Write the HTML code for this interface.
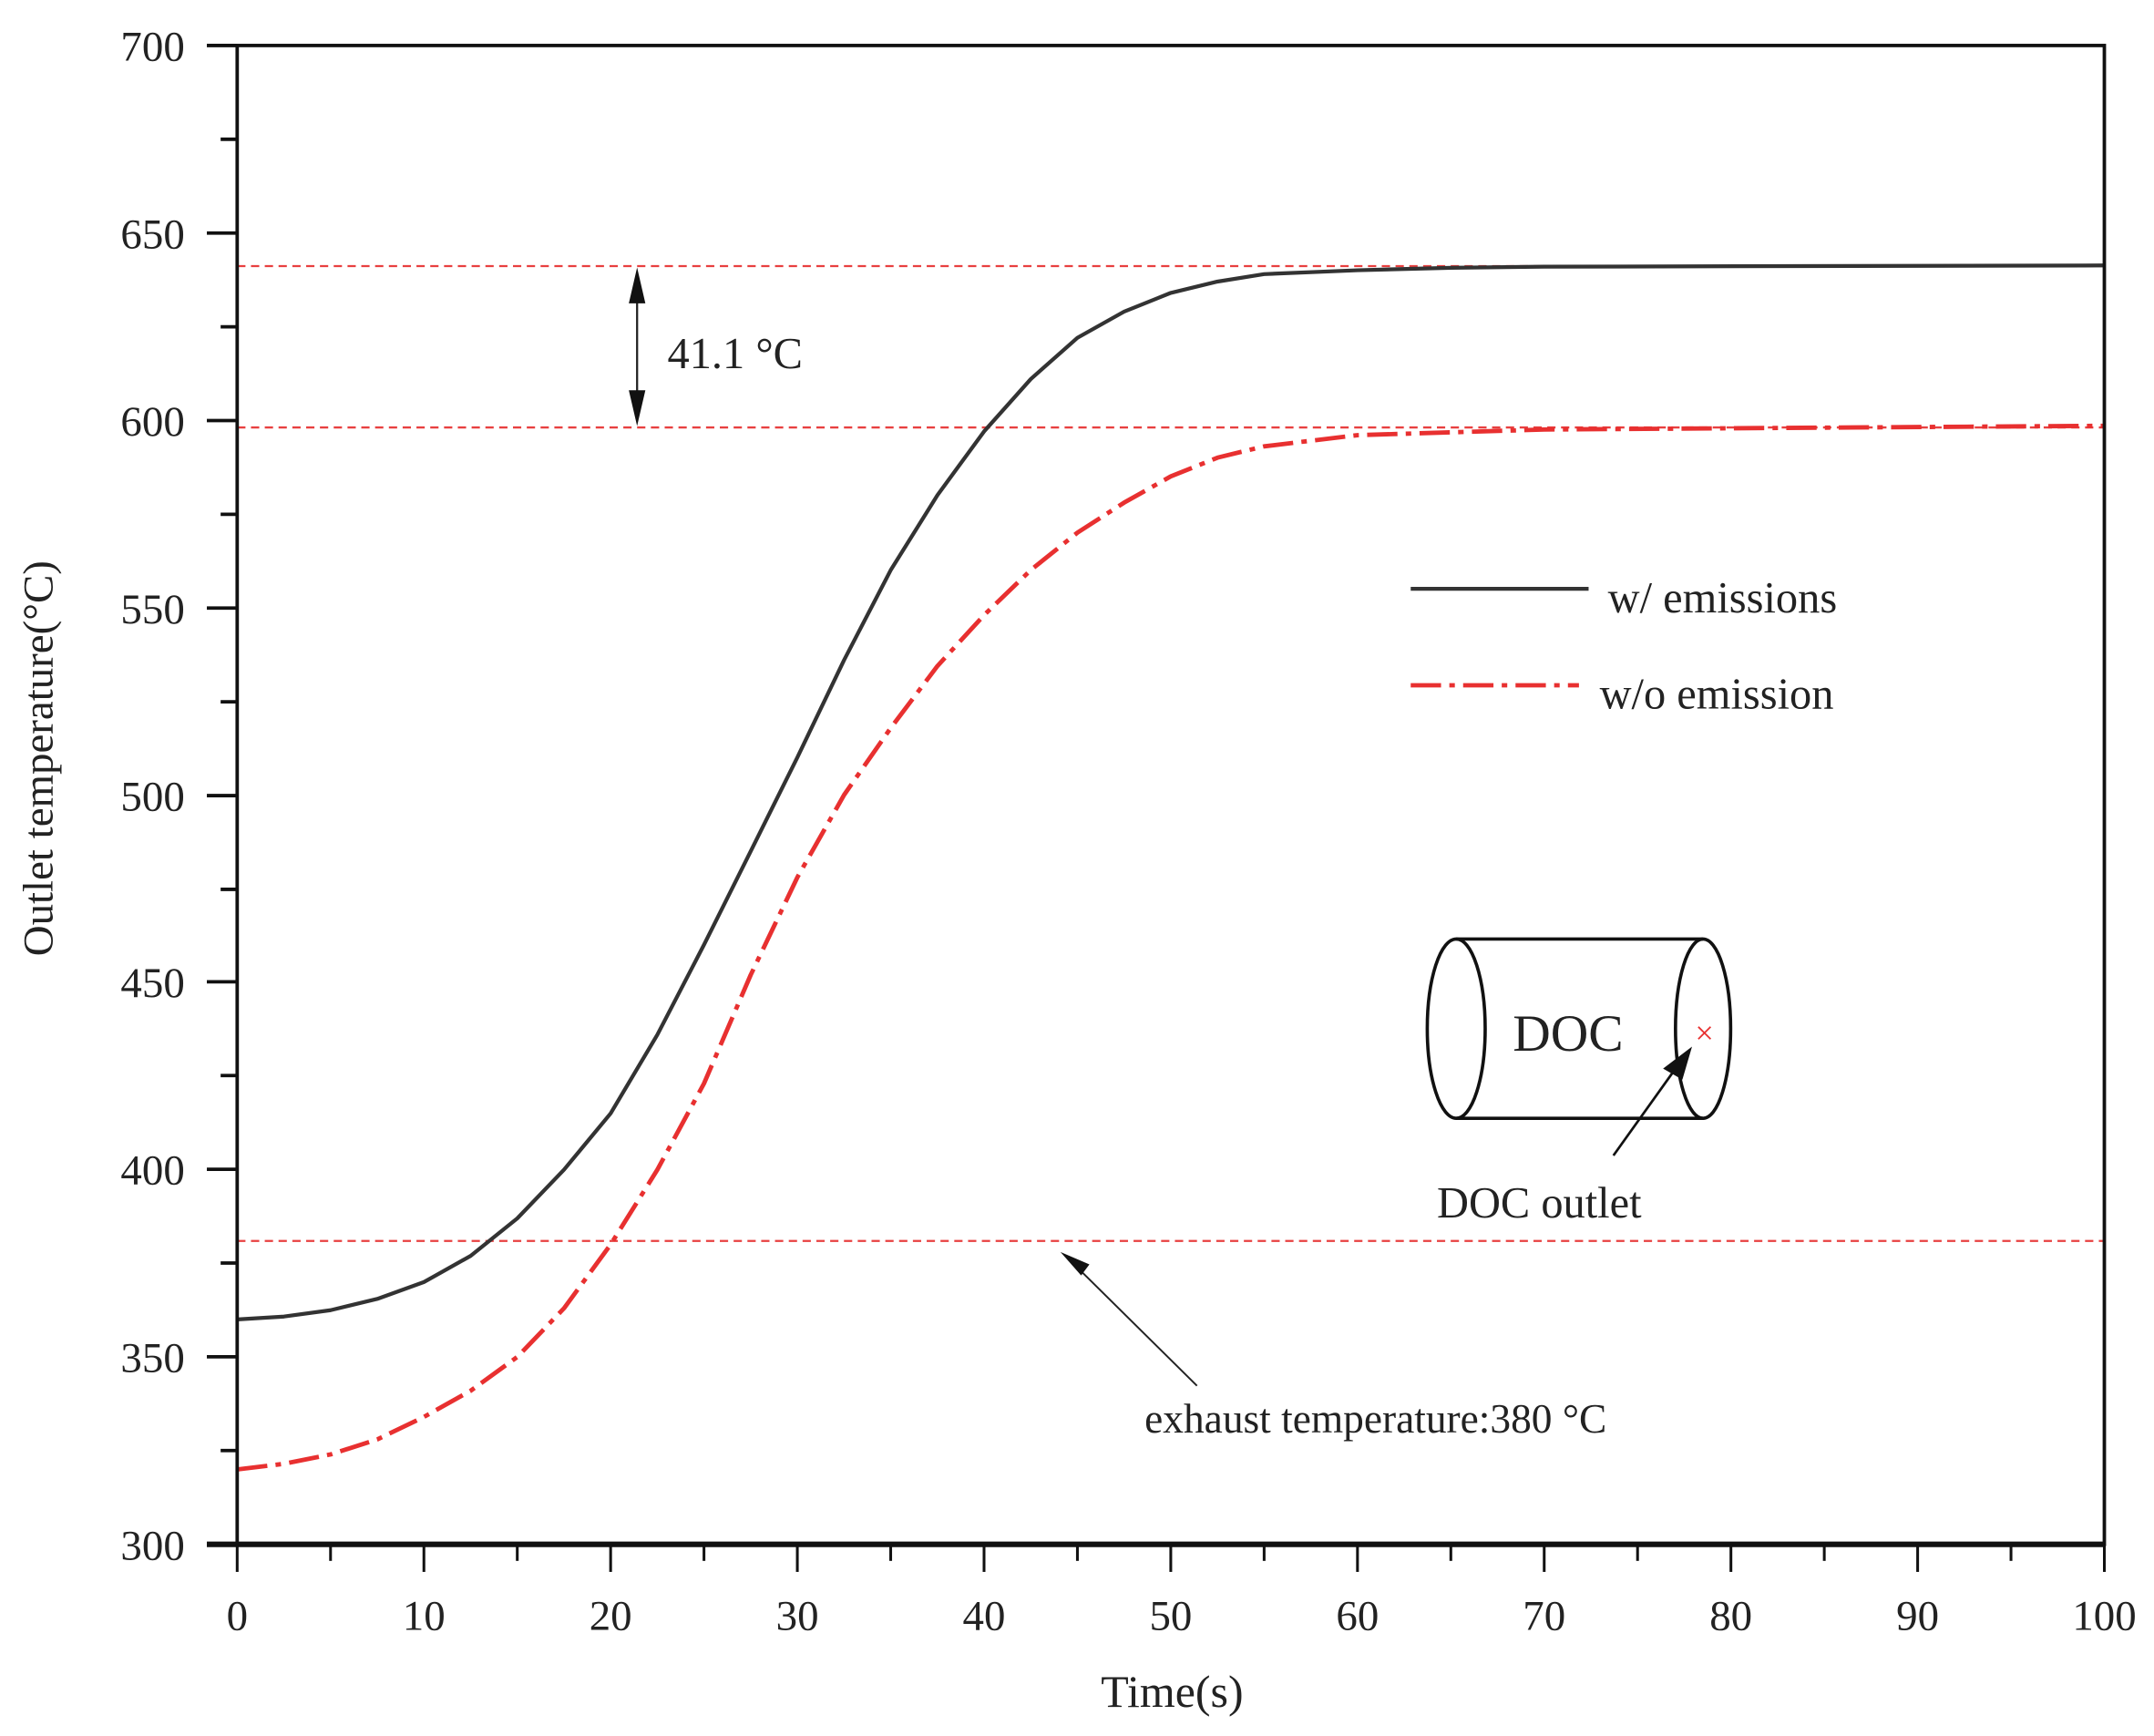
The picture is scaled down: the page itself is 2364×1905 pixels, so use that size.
<!DOCTYPE html>
<html><head><meta charset="utf-8"><style>
html,body{margin:0;padding:0;background:#fff;}
svg{display:block;}
text{font-family:"Liberation Serif",serif;fill:#222;}
</style></head><body>
<svg width="2364" height="1905" viewBox="0 0 1562 1259" preserveAspectRatio="none" xmlns="http://www.w3.org/2000/svg">
<rect width="1562" height="1259" fill="#fff"/>
<g stroke="#e84040" stroke-width="1.5" stroke-dasharray="6,4">
<line x1="172" y1="193" x2="1526" y2="193"/>
<line x1="172" y1="310" x2="1526" y2="310"/>
<line x1="172" y1="900" x2="1526" y2="900"/>
</g>
<polyline fill="none" stroke="#333" stroke-width="2.8" stroke-linejoin="round" points="172,956.9 205.9,954.8 239.7,950.2 273.6,942 307.4,929.8 341.3,910.8 375.1,883.6 409,848.3 442.8,807.5 476.7,750.4 510.5,685.2 544.4,617.3 578.2,549.3 612.1,478.7 645.9,413.5 679.8,359.1 713.6,312.9 747.5,274.9 781.3,245 815.2,226 849,212.4 882.9,204.2 916.7,198.8 984.4,196 1052.1,194.2 1119.8,193.4 1526,192.5"/>
<polyline fill="none" stroke="#e83030" stroke-width="3.2" stroke-linejoin="round" stroke-dasharray="22,6,4,6" points="172,1065.7 205.9,1061.6 239.7,1054.8 273.6,1043.9 307.4,1027.6 341.3,1008.6 375.1,984.1 409,948.8 442.8,902.6 476.7,848.3 510.5,785.8 544.4,707 578.2,636.3 612.1,576.5 645.9,528 679.8,483 713.6,446.1 747.5,413.4 781.3,386.3 815.2,364.5 849,345.5 882.9,331.9 916.7,323.7 984.4,315.6 1119.8,311.5 1526,308.8"/>
<rect x="172" y="33" width="1354" height="1087" fill="none" stroke="#111" stroke-width="2.5"/>
<line x1="150" y1="1120" x2="1526" y2="1120" stroke="#111" stroke-width="4"/>
<line x1="150" y1="33" x2="172" y2="33" stroke="#111" stroke-width="2.5"/>
<g stroke="#111" stroke-width="2.5">
<line x1="150" y1="169" x2="172" y2="169"/><line x1="150" y1="305" x2="172" y2="305"/><line x1="150" y1="441" x2="172" y2="441"/><line x1="150" y1="577" x2="172" y2="577"/><line x1="150" y1="712" x2="172" y2="712"/><line x1="150" y1="848" x2="172" y2="848"/><line x1="150" y1="984" x2="172" y2="984"/>
<line x1="160" y1="101" x2="172" y2="101"/><line x1="160" y1="237" x2="172" y2="237"/><line x1="160" y1="373" x2="172" y2="373"/><line x1="160" y1="509" x2="172" y2="509"/><line x1="160" y1="645" x2="172" y2="645"/><line x1="160" y1="780" x2="172" y2="780"/><line x1="160" y1="916" x2="172" y2="916"/><line x1="160" y1="1052" x2="172" y2="1052"/>
</g>
<g stroke="#111" stroke-width="2">
<line x1="172" y1="1120" x2="172" y2="1140"/><line x1="307.4" y1="1120" x2="307.4" y2="1140"/><line x1="442.8" y1="1120" x2="442.8" y2="1140"/><line x1="578.2" y1="1120" x2="578.2" y2="1140"/><line x1="713.6" y1="1120" x2="713.6" y2="1140"/><line x1="849" y1="1120" x2="849" y2="1140"/><line x1="984.4" y1="1120" x2="984.4" y2="1140"/><line x1="1119.8" y1="1120" x2="1119.8" y2="1140"/><line x1="1255.2" y1="1120" x2="1255.2" y2="1140"/><line x1="1390.6" y1="1120" x2="1390.6" y2="1140"/><line x1="1526" y1="1120" x2="1526" y2="1140"/>
<line x1="239.7" y1="1120" x2="239.7" y2="1132"/><line x1="375.1" y1="1120" x2="375.1" y2="1132"/><line x1="510.5" y1="1120" x2="510.5" y2="1132"/><line x1="645.9" y1="1120" x2="645.9" y2="1132"/><line x1="781.3" y1="1120" x2="781.3" y2="1132"/><line x1="916.7" y1="1120" x2="916.7" y2="1132"/><line x1="1052.1" y1="1120" x2="1052.1" y2="1132"/><line x1="1187.5" y1="1120" x2="1187.5" y2="1132"/><line x1="1322.9" y1="1120" x2="1322.9" y2="1132"/><line x1="1458.3" y1="1120" x2="1458.3" y2="1132"/>
</g>
<g font-size="31" text-anchor="end">
<text x="134" y="44">700</text><text x="134" y="180">650</text><text x="134" y="316">600</text><text x="134" y="452">550</text><text x="134" y="588">500</text><text x="134" y="723">450</text><text x="134" y="859">400</text><text x="134" y="995">350</text><text x="134" y="1131">300</text>
</g>
<g font-size="31" text-anchor="middle">
<text x="172" y="1182">0</text><text x="307.4" y="1182">10</text><text x="442.8" y="1182">20</text><text x="578.2" y="1182">30</text><text x="713.6" y="1182">40</text><text x="849" y="1182">50</text><text x="984.4" y="1182">60</text><text x="1119.8" y="1182">70</text><text x="1255.2" y="1182">80</text><text x="1390.6" y="1182">90</text><text x="1526" y="1182">100</text>
</g>
<text x="850" y="1238" font-size="33" text-anchor="middle">Time(s)</text>
<text transform="translate(38,550) rotate(-90)" font-size="31" text-anchor="middle">Outlet temperature(°C)</text>
<line x1="462" y1="205" x2="462" y2="298" stroke="#222" stroke-width="1.5"/>
<polygon points="462,194 456,220 468,220" fill="#111"/>
<polygon points="462,309 456,283 468,283" fill="#111"/>
<text x="484" y="267" font-size="32">41.1 °C</text>
<line x1="1023" y1="427" x2="1152" y2="427" stroke="#333" stroke-width="2.8"/>
<text x="1166" y="444" font-size="32">w/ emissions</text>
<line x1="1023" y1="497" x2="1145" y2="497" stroke="#e83030" stroke-width="3.2" stroke-dasharray="22,6,4,6"/>
<text x="1160" y="514" font-size="32">w/o emission</text>
<g fill="none" stroke="#111" stroke-width="2.4">
<ellipse cx="1056" cy="746" rx="21" ry="65"/>
<ellipse cx="1235" cy="746" rx="20" ry="65"/>
<line x1="1056" y1="681" x2="1235" y2="681"/>
<line x1="1056" y1="811" x2="1235" y2="811"/>
</g>
<text x="1097" y="762" font-size="38">DOC</text>
<text x="1236" y="757" font-size="24" text-anchor="middle" style="fill:#e83030">×</text>
<line x1="1170" y1="838" x2="1215" y2="775" stroke="#111" stroke-width="1.8"/>
<polygon points="1227,759 1206,775 1220,783" fill="#111"/>
<text x="1042" y="883" font-size="32">DOC outlet</text>
<line x1="868" y1="1005" x2="780" y2="918" stroke="#222" stroke-width="1.3"/>
<polygon points="769,908 784,925 790,917" fill="#111"/>
<text x="830" y="1039" font-size="30">exhaust temperature:380 °C</text>
</svg>
</body></html>
